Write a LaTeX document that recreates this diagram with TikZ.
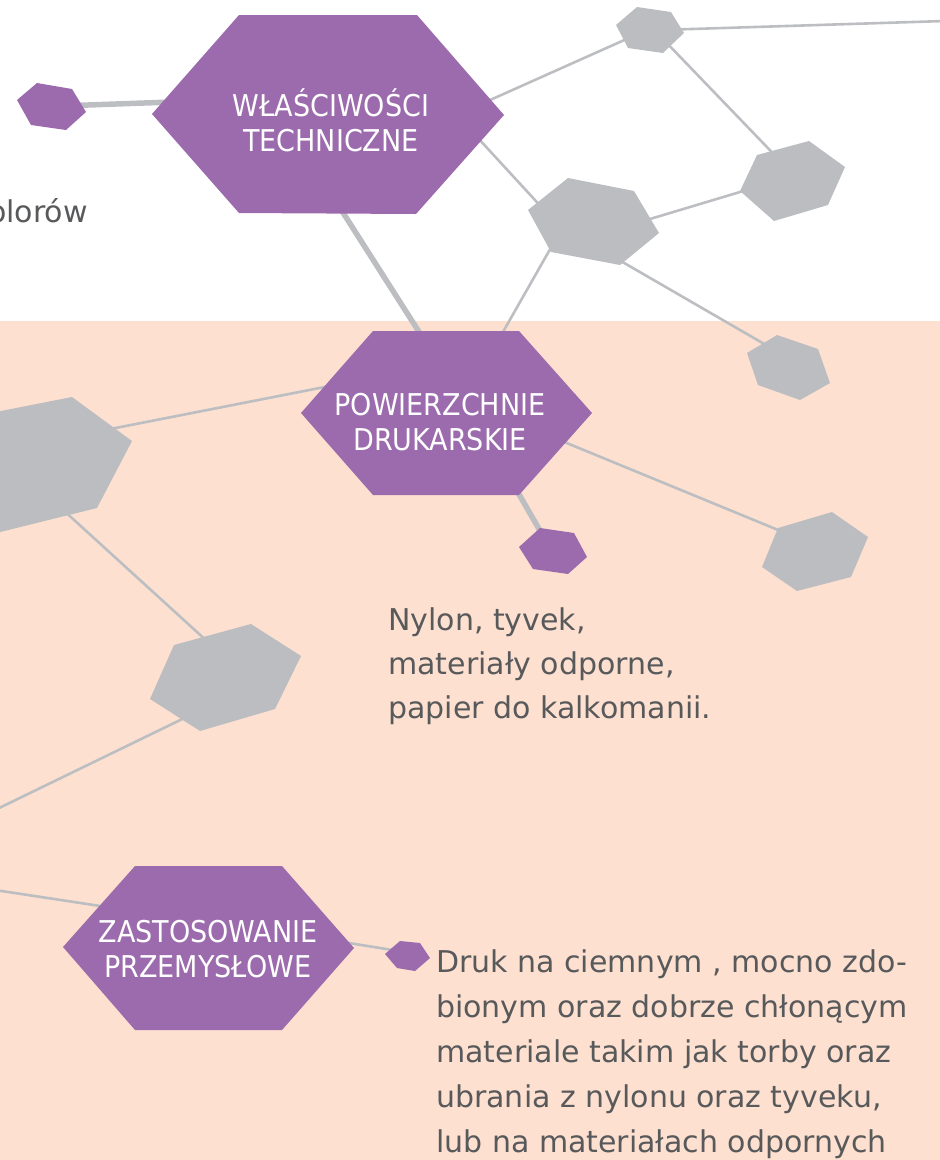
\documentclass[tikz,border=0pt]{standalone}
\usepackage{fontspec}
\setmainfont{DejaVu Sans}
\newfontfamily\condfont{DejaVu Sans Condensed}
\definecolor{hexpurple}{HTML}{9C6BAD}
\definecolor{hexgray}{HTML}{BCBDC1}
\definecolor{linegray}{HTML}{BCBEC2}
\definecolor{peach}{HTML}{FDE0D0}
\definecolor{textgray}{HTML}{58595B}
\begin{document}
\begin{tikzpicture}[x=1pt,y=-1pt,
  hexp/.style={fill=hexpurple},
  hexg/.style={fill=hexgray},
  thinlink/.style={draw=linegray,line width=2.6pt},
  thicklink/.style={draw=linegray,line width=5.5pt},
  lbl/.style={text=white,font=\condfont\fontsize{30}{35}\selectfont,align=center,inner sep=0pt,anchor=base},
  bodytext/.style={text=textgray,font=\fontsize{30}{44}\selectfont,align=left,inner sep=0pt,anchor=base west}]
\useasboundingbox (0,0) rectangle (940,1160);
\fill[peach] (0,321) rectangle (940,1160);

% connector end points
\coordinate (a1) at (60,106);   \coordinate (a2) at (200,101);
\coordinate (b1) at (470,109);  \coordinate (b2) at (640,33);
\coordinate (c1) at (660,30);   \coordinate (c2) at (945,21);
\coordinate (d1) at (661,37);   \coordinate (d2) at (790,171);
\coordinate (e1) at (466,125);  \coordinate (e2) at (557,224);
\coordinate (f1) at (600,234);  \coordinate (f2) at (760,186);
\coordinate (g1) at (561,230);  \coordinate (g2) at (495,346);
\coordinate (h1) at (600,249);  \coordinate (h2) at (785,356);
\coordinate (i1) at (335,200);  \coordinate (i2) at (428,346);
\coordinate (j1) at (340,384);  \coordinate (j2) at (90,433);
\coordinate (k1) at (540,432);  \coordinate (k2) at (800,539);
\coordinate (l1) at (505,470);  \coordinate (l2) at (550,548);
\coordinate (m1) at (50,498);   \coordinate (m2) at (220,653);
\coordinate (n1) at (205,708);  \coordinate (n2) at (-5,810);
\coordinate (o1) at (-5,890);   \coordinate (o2) at (120,909);
\coordinate (q1) at (330,940);  \coordinate (q2) at (405,952);

% connectors
\draw[thicklink] (a1) -- (a2);
\draw[thinlink] (b1) -- (b2);
\draw[thinlink] (c1) -- (c2);
\draw[thinlink] (d1) -- (d2);
\draw[thinlink] (e1) -- (e2);
\draw[thinlink] (f1) -- (f2);
\draw[thinlink] (g1) -- (g2);
\draw[thinlink] (h1) -- (h2);
\draw[thicklink] (i1) -- (i2);
\draw[thinlink] (j1) -- (j2);
\draw[thinlink] (k1) -- (k2);
\draw[thicklink] (l1) -- (l2);
\draw[thinlink] (m1) -- (m2);
\draw[thinlink] (n1) -- (n2);
\draw[thinlink] (o1) -- (o2);
\draw[thinlink] (q1) -- (q2);

% hexagons
\fill[hexp] (17,100) -- (37,83) -- (72,89) -- (86,112) -- (66,130) -- (31,125) -- cycle;
\fill[hexp] (152,114) -- (239,15) -- (417,15) -- (504,115) -- (416,214) -- (239,213) -- cycle;
\fill[hexg] (616,25) -- (637,7) -- (671,12) -- (684,33) -- (663,53) -- (628,48) -- cycle;
\fill[hexg] (740,191) -- (757,155) -- (809,141) -- (845,167) -- (828,205) -- (774,221) -- cycle;
\fill[hexg] (528,210) -- (568,178) -- (634,191) -- (659,233) -- (620,265) -- (551,252) -- cycle;
\fill[hexg] (747,353) -- (777,335) -- (818,349) -- (830,383) -- (800,400) -- (758,385) -- cycle;
\fill[hexp] (301,413) -- (373,331) -- (519,331) -- (592,413) -- (519,495) -- (373,495) -- cycle;
\fill[hexp] (519,547) -- (540,528) -- (574,533) -- (587,557) -- (568,574) -- (533,569) -- cycle;
\fill[hexg] (762,567) -- (778,528) -- (832,512) -- (868,537) -- (851,577) -- (797,591) -- cycle;
\fill[hexg] (-45,420) -- (72,397) -- (132,441) -- (97,508) -- (-20,537) -- (-80,490) -- cycle;
\fill[hexg] (150,699) -- (174,645) -- (251,624) -- (301,656) -- (275,709) -- (200,731) -- cycle;
\fill[hexp] (63,947) -- (135,866) -- (282,866) -- (354,948) -- (282,1030) -- (135,1030) -- cycle;
\fill[hexp] (385,954) -- (400,941) -- (420,943) -- (430,958) -- (415,971) -- (397,968) -- cycle;

% labels (anchor = baseline of last line)
\node[lbl] (wl) at (331,151) {WŁAŚCIWOŚCI\\TECHNICZNE};
\node[lbl] (pow) at (440,450) {POWIERZCHNIE\\DRUKARSKIE};
\node[lbl] (zas) at (208,977) {ZASTOSOWANIE\\PRZEMYSŁOWE};

% texts (anchor = baseline of last line)
\node[bodytext] (kol) at (-12,222) {olorów};
\node[bodytext] (nyl) at (388,718) {Nylon, tyvek,\\materiały odporne,\\papier do kalkomanii.};
\node[bodytext,font=\fontsize{30}{45}\selectfont] (druk) at (436,1152) {Druk na ciemnym , mocno zdo-\\bionym oraz dobrze chłonącym\\materiale takim jak torby oraz\\ubrania z nylonu oraz tyveku,\\lub na materiałach odpornych};
\end{tikzpicture}
\end{document}
